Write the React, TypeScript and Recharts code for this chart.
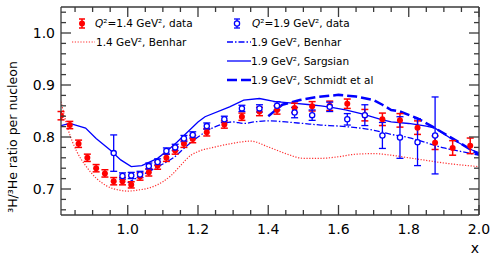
import React from 'react';
import { ComposedChart, Line, Scatter, ErrorBar, XAxis, YAxis } from 'recharts';

// Q^2 = 1.4 GeV^2 data
const redX = [0.81, 0.835, 0.86, 0.885, 0.91, 0.935, 0.96, 0.985, 1.01, 1.035, 1.06, 1.085, 1.11, 1.135, 1.16, 1.185, 1.225, 1.275, 1.325, 1.375, 1.425, 1.475, 1.525, 1.575, 1.625, 1.675, 1.725, 1.775, 1.825, 1.875, 1.925, 1.975];
const redY = [0.841, 0.823, 0.787, 0.760, 0.740, 0.730, 0.715, 0.715, 0.708, 0.724, 0.732, 0.745, 0.760, 0.774, 0.787, 0.796, 0.809, 0.824, 0.839, 0.849, 0.852, 0.856, 0.859, 0.860, 0.864, 0.842, 0.834, 0.832, 0.818, 0.789, 0.779, 0.783];
const redErr = [0.008, 0.007, 0.007, 0.007, 0.007, 0.007, 0.007, 0.007, 0.006, 0.007, 0.007, 0.007, 0.007, 0.007, 0.007, 0.007, 0.007, 0.007, 0.007, 0.008, 0.008, 0.009, 0.009, 0.009, 0.009, 0.011, 0.012, 0.013, 0.013, 0.013, 0.014, 0.015];

// Q^2 = 1.9 GeV^2 data
const blueX = [0.96, 0.985, 1.01, 1.035, 1.06, 1.085, 1.11, 1.135, 1.16, 1.185, 1.225, 1.275, 1.325, 1.375, 1.425, 1.475, 1.525, 1.575, 1.625, 1.675, 1.725, 1.775, 1.825, 1.875];
const blueY = [0.769, 0.725, 0.726, 0.728, 0.744, 0.752, 0.773, 0.780, 0.797, 0.804, 0.821, 0.834, 0.855, 0.855, 0.860, 0.847, 0.842, 0.858, 0.834, 0.842, 0.803, 0.799, 0.790, 0.803];
const blueErr = [0.035, 0.006, 0.006, 0.006, 0.006, 0.006, 0.006, 0.006, 0.006, 0.006, 0.006, 0.006, 0.006, 0.007, 0.008, 0.010, 0.010, 0.009, 0.011, 0.020, 0.025, 0.040, 0.045, 0.074];

// model curves
const benhar14X = [0.81, 0.83, 0.855, 0.88, 0.91, 0.94, 0.975, 1.0, 1.03, 1.07, 1.1, 1.125, 1.15, 1.18, 1.2, 1.25, 1.3, 1.35, 1.4, 1.45, 1.5, 1.55, 1.6, 1.65, 1.7, 1.75, 1.8, 1.85, 1.9, 2.0];
const benhar14Y = [0.868, 0.815, 0.772, 0.745, 0.721, 0.706, 0.698, 0.696, 0.698, 0.704, 0.714, 0.727, 0.745, 0.765, 0.772, 0.781, 0.788, 0.792, 0.781, 0.768, 0.759, 0.759, 0.762, 0.767, 0.768, 0.765, 0.760, 0.755, 0.750, 0.743];

const benhar19X = [1.0, 1.05, 1.1, 1.13, 1.16, 1.2, 1.25, 1.3, 1.33, 1.36, 1.4, 1.45, 1.5, 1.55, 1.6, 1.65, 1.7, 1.75, 1.8, 1.85, 1.9, 1.95, 2.0];
const benhar19Y = [0.712, 0.730, 0.748, 0.760, 0.778, 0.800, 0.820, 0.829, 0.826, 0.829, 0.831, 0.829, 0.826, 0.823, 0.821, 0.818, 0.813, 0.805, 0.799, 0.789, 0.779, 0.772, 0.765];

const sargsianX = [0.81, 0.835, 0.88, 0.91, 0.95, 0.98, 1.01, 1.04, 1.085, 1.115, 1.14, 1.2, 1.22, 1.29, 1.33, 1.375, 1.42, 1.47, 1.52, 1.55, 1.58, 1.62, 1.67, 1.72, 1.75, 1.8, 1.85, 1.875, 1.92, 1.98, 2.0];
const sargsianY = [0.822, 0.826, 0.817, 0.797, 0.775, 0.756, 0.743, 0.745, 0.759, 0.775, 0.790, 0.829, 0.839, 0.858, 0.871, 0.874, 0.868, 0.865, 0.862, 0.860, 0.857, 0.852, 0.844, 0.834, 0.829, 0.826, 0.821, 0.817, 0.797, 0.775, 0.770];

const schmidtX = [1.40, 1.44, 1.49, 1.54, 1.60, 1.65, 1.70, 1.725, 1.75, 1.775, 1.825, 1.875, 1.94, 2.0];
const schmidtY = [0.840, 0.862, 0.871, 0.877, 0.881, 0.878, 0.871, 0.862, 0.852, 0.849, 0.836, 0.817, 0.791, 0.766];

// axis ticks
const xTicks = [0.85, 0.9, 0.95, 1.0, 1.05, 1.1, 1.15, 1.2, 1.25, 1.3, 1.35, 1.4, 1.45, 1.5, 1.55, 1.6, 1.65, 1.7, 1.75, 1.8, 1.85, 1.9, 1.95, 2.0];
const yTicks = [0.66, 0.68, 0.7, 0.72, 0.74, 0.76, 0.78, 0.8, 0.82, 0.84, 0.86, 0.88, 0.9, 0.92, 0.94, 0.96, 0.98, 1.0, 1.02, 1.04];

const RED = '#ff0000';
const BLUE = '#0000ff';
const AXIS = '#3a3a3a';
const FONT = '"DejaVu Sans", sans-serif';

const zip = (xs, ys) => xs.map((x, i) => ({ x, y: ys[i] }));
const redData = redX.map((x, i) => ({ x, y: redY[i], err: redErr[i] }));
const blueData = blueX.map((x, i) => ({ x, y: blueY[i], err: blueErr[i] }));

const isMajor = (v, step) => Math.abs(v / step - Math.round(v / step)) < 1e-6;

const XTick = ({ x, y, payload, top }) => {
  const major = isMajor(payload.value, 0.2);
  const len = major ? 10 : 5;
  return (
    <g>
      <line x1={x} x2={x} y1={y} y2={top ? y + len : y - len} stroke={AXIS} strokeWidth={1.3} />
      {!top && major && (
        <text x={x} y={y + 19} textAnchor="middle" fontSize={14} fontFamily={FONT} fill="#000">
          {payload.value.toFixed(1)}
        </text>
      )}
    </g>
  );
};

const YTick = ({ x, y, payload, right }) => {
  const major = isMajor(payload.value, 0.1);
  const len = major ? 10 : 5;
  return (
    <g>
      <line x1={x} x2={right ? x - len : x + len} y1={y} y2={y} stroke={AXIS} strokeWidth={1.3} />
      {!right && major && (
        <text x={x - 6} y={y + 5} textAnchor="end" fontSize={14} fontFamily={FONT} fill="#000">
          {payload.value.toFixed(1)}
        </text>
      )}
    </g>
  );
};

const FilledDot = ({ cx, cy }) => <circle cx={cx} cy={cy} r={3} fill={RED} />;
const OpenDot = ({ cx, cy }) => <circle cx={cx} cy={cy} r={2.6} fill="#fff" stroke={BLUE} strokeWidth={1.3} />;

const Legend = () => (
  <svg width={498} height={263} style={{ position: 'absolute', left: 0, top: 0, pointerEvents: 'none' }}>
    <g fontFamily={FONT} fontSize={10.5} fill="#000">
      {/* left column */}
      <line x1={82} x2={82} y1={19} y2={28} stroke={RED} strokeWidth={1.5} />
      <line x1={79} x2={85} y1={19} y2={19} stroke={RED} strokeWidth={1.5} />
      <line x1={79} x2={85} y1={28} y2={28} stroke={RED} strokeWidth={1.5} />
      <circle cx={82} cy={23.5} r={3} fill={RED} />
      <text x={95} y={27}><tspan fontStyle="italic">Q</tspan>²=1.4 GeV², data</text>
      <line x1={72} x2={95} y1={42} y2={42} stroke="#ff3030" strokeWidth={1.2} strokeDasharray="1.2 1.6" />
      <text x={96} y={46}>1.4 GeV², Benhar</text>
      {/* right column */}
      <line x1={237} x2={237} y1={19} y2={28} stroke={BLUE} strokeWidth={1.3} />
      <line x1={234} x2={240} y1={19} y2={19} stroke={BLUE} strokeWidth={1.3} />
      <line x1={234} x2={240} y1={28} y2={28} stroke={BLUE} strokeWidth={1.3} />
      <circle cx={237} cy={23.5} r={2.6} fill="#fff" stroke={BLUE} strokeWidth={1.3} />
      <text x={252} y={27}><tspan fontStyle="italic">Q</tspan>²=1.9 GeV², data</text>
      <line x1={227} x2={251} y1={42} y2={42} stroke={BLUE} strokeWidth={1.3} strokeDasharray="6 2 1.5 2" />
      <text x={251} y={46}>1.9 GeV², Benhar</text>
      <line x1={227} x2={251} y1={61} y2={61} stroke={BLUE} strokeWidth={1.3} />
      <text x={251} y={65}>1.9 GeV², Sargsian</text>
      <line x1={227} x2={251} y1={80} y2={80} stroke={BLUE} strokeWidth={2.5} strokeDasharray="10 4" />
      <text x={251} y={84}>1.9 GeV², Schmidt et al</text>
    </g>
    <text x={17} y={137} transform="rotate(-90 17 137)" textAnchor="middle" fontFamily={FONT} fontSize={12.5} fill="#000">
      ³H/³He ratio per nucleon
    </text>
    <text x={475} y={253} textAnchor="middle" fontFamily={FONT} fontSize={14} fill="#000">x</text>
  </svg>
);

const App = () => {
  return (
    <div style={{ position: 'absolute', left: 0, top: 0, width: 498, height: 263, background: '#fff' }}>
      <ComposedChart width={498} height={263} margin={{ top: 0, right: 0, bottom: 0, left: 0 }}>
        <XAxis xAxisId="b" type="number" dataKey="x" domain={[0.81, 2.0]} ticks={xTicks} interval={0}
          allowDataOverflow height={48} tickSize={0} tickMargin={0} tick={<XTick />} stroke={AXIS} strokeWidth={1.3} />
        <XAxis xAxisId="t" orientation="top" type="number" dataKey="x" domain={[0.81, 2.0]} ticks={xTicks} interval={0}
          allowDataOverflow height={7} tickSize={0} tickMargin={0} tick={<XTick top />} stroke={AXIS} strokeWidth={1.3} />
        <YAxis yAxisId="l" type="number" domain={[0.65, 1.05]} ticks={yTicks} interval={0}
          allowDataOverflow width={61} tickSize={0} tickMargin={0} tick={<YTick />} stroke={AXIS} strokeWidth={1.3} />
        <YAxis yAxisId="r" orientation="right" type="number" domain={[0.65, 1.05]} ticks={yTicks} interval={0}
          allowDataOverflow width={19} tickSize={0} tickMargin={0} tick={<YTick right />} stroke={AXIS} strokeWidth={1.3} />

        <Line xAxisId="b" yAxisId="l" data={zip(benhar14X, benhar14Y)} dataKey="y" type="monotone" stroke="#ff3030"
          strokeWidth={1.2} strokeDasharray="1.2 1.6" dot={false} isAnimationActive={false} />
        <Line xAxisId="b" yAxisId="l" data={zip(benhar19X, benhar19Y)} dataKey="y" type="monotone" stroke={BLUE}
          strokeWidth={1.3} strokeDasharray="6 2 1.5 2" dot={false} isAnimationActive={false} />
        <Line xAxisId="b" yAxisId="l" data={zip(sargsianX, sargsianY)} dataKey="y" type="linear" stroke={BLUE}
          strokeWidth={1.3} dot={false} isAnimationActive={false} />
        <Line xAxisId="b" yAxisId="l" data={zip(schmidtX, schmidtY)} dataKey="y" type="linear" stroke={BLUE}
          strokeWidth={2.5} strokeDasharray="10 4" dot={false} isAnimationActive={false} />

        <Scatter xAxisId="b" yAxisId="l" data={redData} dataKey="y" shape={<FilledDot />} isAnimationActive={false}>
          <ErrorBar dataKey="err" direction="y" width={3.5} stroke={RED} strokeWidth={1.5} isAnimationActive={false} />
        </Scatter>
        <Scatter xAxisId="b" yAxisId="l" data={blueData} dataKey="y" shape={<OpenDot />} isAnimationActive={false}>
          <ErrorBar dataKey="err" direction="y" width={3.5} stroke={BLUE} strokeWidth={1.3} isAnimationActive={false} />
        </Scatter>
      </ComposedChart>
      <Legend />
    </div>
  );
};

export default App;
